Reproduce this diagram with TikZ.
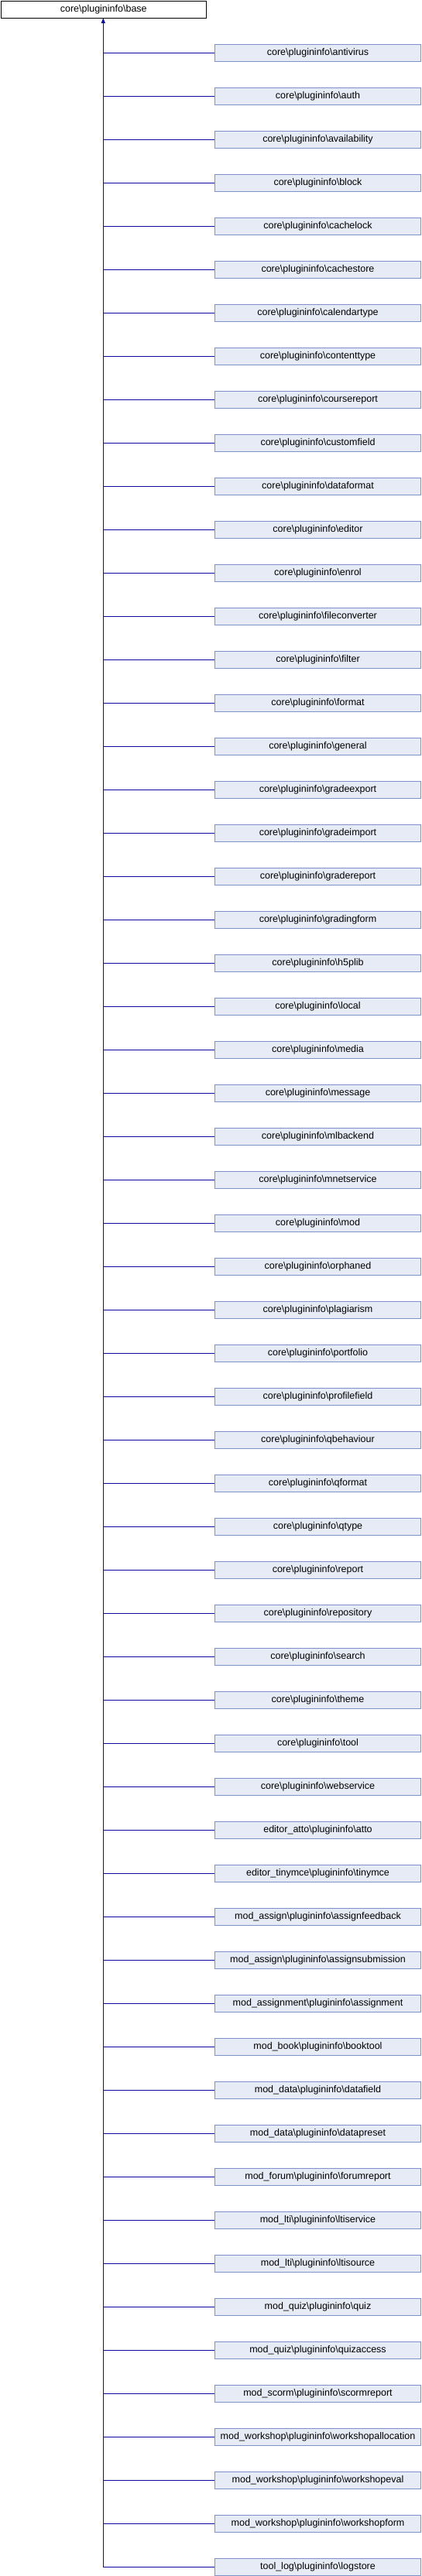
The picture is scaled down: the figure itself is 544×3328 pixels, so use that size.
\documentclass[tikz,border=0pt]{standalone}
\usepackage{fontspec}
\setmainfont{Liberation Sans}
\usetikzlibrary{arrows.meta}
\definecolor{edgeblue}{HTML}{0C0C9E}
\definecolor{childfill}{HTML}{E7EBF5}
\definecolor{childdraw}{HTML}{7B93C9}
\tikzset{
  x=1pt, y=-1pt,
  basebox/.style={draw=black, fill=white, line width=1pt, minimum width=265.5pt, minimum height=22.8pt, inner sep=0pt, font=\fontsize{12.5}{13}\selectfont, anchor=north west},
  childbox/.style={draw=childdraw, fill=childfill, line width=1pt, minimum width=266pt, minimum height=22.6pt, inner sep=0pt, font=\fontsize{12.5}{13}\selectfont, anchor=west},
  edge/.style={draw=edgeblue, line width=1.2pt},
}
\begin{document}
\begin{tikzpicture}
\useasboundingbox (0,0) rectangle (544,3328);
\node[basebox] (base) at (0.5,0.5) {core\textbackslash plugininfo\textbackslash base};
\coordinate (trunk) at (133.3,3316.3);
\coordinate (tip) at (133.3,23.3);
\draw[edge] (tip) -- (trunk);
\fill[edgeblue] (tip) -- ++(-2.6,6.5) -- ++(5.2,0) -- cycle;
\foreach [count=\i from 0] \t in {
core\textbackslash plugininfo\textbackslash antivirus,
core\textbackslash plugininfo\textbackslash auth,
core\textbackslash plugininfo\textbackslash availability,
core\textbackslash plugininfo\textbackslash block,
core\textbackslash plugininfo\textbackslash cachelock,
core\textbackslash plugininfo\textbackslash cachestore,
core\textbackslash plugininfo\textbackslash calendartype,
core\textbackslash plugininfo\textbackslash contenttype,
core\textbackslash plugininfo\textbackslash coursereport,
core\textbackslash plugininfo\textbackslash customfield,
core\textbackslash plugininfo\textbackslash dataformat,
core\textbackslash plugininfo\textbackslash editor,
core\textbackslash plugininfo\textbackslash enrol,
core\textbackslash plugininfo\textbackslash fileconverter,
core\textbackslash plugininfo\textbackslash filter,
core\textbackslash plugininfo\textbackslash format,
core\textbackslash plugininfo\textbackslash general,
core\textbackslash plugininfo\textbackslash gradeexport,
core\textbackslash plugininfo\textbackslash gradeimport,
core\textbackslash plugininfo\textbackslash gradereport,
core\textbackslash plugininfo\textbackslash gradingform,
core\textbackslash plugininfo\textbackslash h5plib,
core\textbackslash plugininfo\textbackslash local,
core\textbackslash plugininfo\textbackslash media,
core\textbackslash plugininfo\textbackslash message,
core\textbackslash plugininfo\textbackslash mlbackend,
core\textbackslash plugininfo\textbackslash mnetservice,
core\textbackslash plugininfo\textbackslash mod,
core\textbackslash plugininfo\textbackslash orphaned,
core\textbackslash plugininfo\textbackslash plagiarism,
core\textbackslash plugininfo\textbackslash portfolio,
core\textbackslash plugininfo\textbackslash profilefield,
core\textbackslash plugininfo\textbackslash qbehaviour,
core\textbackslash plugininfo\textbackslash qformat,
core\textbackslash plugininfo\textbackslash qtype,
core\textbackslash plugininfo\textbackslash report,
core\textbackslash plugininfo\textbackslash repository,
core\textbackslash plugininfo\textbackslash search,
core\textbackslash plugininfo\textbackslash theme,
core\textbackslash plugininfo\textbackslash tool,
core\textbackslash plugininfo\textbackslash webservice,
editor\_atto\textbackslash plugininfo\textbackslash atto,
editor\_tinymce\textbackslash plugininfo\textbackslash tinymce,
mod\_assign\textbackslash plugininfo\textbackslash assignfeedback,
mod\_assign\textbackslash plugininfo\textbackslash assignsubmission,
mod\_assignment\textbackslash plugininfo\textbackslash assignment,
mod\_book\textbackslash plugininfo\textbackslash booktool,
mod\_data\textbackslash plugininfo\textbackslash datafield,
mod\_data\textbackslash plugininfo\textbackslash datapreset,
mod\_forum\textbackslash plugininfo\textbackslash forumreport,
mod\_lti\textbackslash plugininfo\textbackslash ltiservice,
mod\_lti\textbackslash plugininfo\textbackslash ltisource,
mod\_quiz\textbackslash plugininfo\textbackslash quiz,
mod\_quiz\textbackslash plugininfo\textbackslash quizaccess,
mod\_scorm\textbackslash plugininfo\textbackslash scormreport,
mod\_workshop\textbackslash plugininfo\textbackslash workshopallocation,
mod\_workshop\textbackslash plugininfo\textbackslash workshopeval,
mod\_workshop\textbackslash plugininfo\textbackslash workshopform,
tool\_log\textbackslash plugininfo\textbackslash logstore}{
  \node[childbox] (c\i) at (277,68.3+56*\i) {\t};
  \coordinate (j\i) at (133.3,68.3+56*\i);
  \draw[edge] (j\i) -- (c\i.west);
}
\end{tikzpicture}
\end{document}
